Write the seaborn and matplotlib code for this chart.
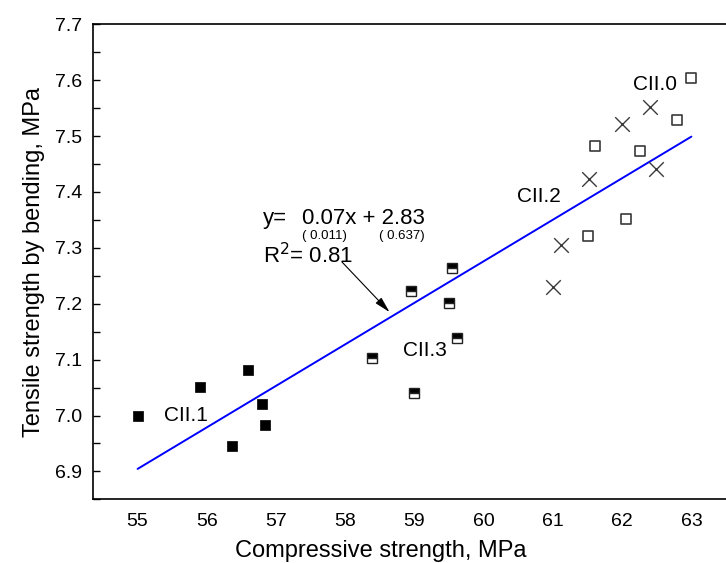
import numpy as np
import pandas as pd
import seaborn as sns
import matplotlib.pyplot as plt
from matplotlib.ticker import MultipleLocator

# CII.1 - filled squares
cii1_x = [55.00, 55.90, 56.60, 56.79, 56.84, 56.37]
cii1_y = [7.000, 7.051, 7.081, 7.021, 6.983, 6.945]
# CII.3 - half filled squares
cii3_x = [59.54, 58.95, 59.50, 59.61, 58.39, 59.00]
cii3_y = [7.264, 7.222, 7.201, 7.138, 7.103, 7.041]
# CII.0 - open squares
cii0_x = [63.00, 62.79, 61.61, 62.26, 62.06, 61.50]
cii0_y = [7.603, 7.528, 7.483, 7.474, 7.351, 7.321]
# CII.2 - crosses
cii2_x = [62.40, 62.00, 62.49, 61.52, 61.11, 61.00]
cii2_y = [7.552, 7.522, 7.441, 7.424, 7.305, 7.230]

# fitted line as drawn in the figure
fit_slope = 0.0743
fit_intercept = 2.818

sns.set_style('white')
plt.rcParams['font.family'] = ['Liberation Sans', 'DejaVu Sans']
for key in ['text.color', 'axes.labelcolor', 'xtick.color', 'ytick.color']:
    plt.rcParams[key] = 'black'

fig = plt.figure(figsize=(7.26, 5.63), dpi=100)
ax = fig.add_axes([0.1285, 0.113, 0.8715, 0.844])

all_x = np.array(cii1_x + cii3_x + cii0_x + cii2_x)
line_x = np.array([all_x.min(), all_x.max()])
line_df = pd.DataFrame({'x': line_x, 'y': fit_slope * line_x + fit_intercept})
sns.lineplot(data=line_df, x='x', y='y', ax=ax, color='#0000ff', linewidth=1.4)

sns.scatterplot(x=cii1_x, y=cii1_y, ax=ax, marker='s', s=62, color='black',
                edgecolor='black', linewidth=0.5, zorder=3)
ax.plot(cii3_x, cii3_y, linestyle='none', marker='s', markersize=7.2,
        fillstyle='top', markerfacecolor='black', markerfacecoloralt='white',
        markeredgecolor='#222222', markeredgewidth=1.0, zorder=3)
sns.scatterplot(x=cii0_x, y=cii0_y, ax=ax, marker='s', s=58, facecolor='white',
                edgecolor='#3a3a3a', linewidth=1.2, zorder=3)
sns.scatterplot(x=cii2_x, y=cii2_y, ax=ax, marker='x', s=110, color='#3a3a3a',
                linewidth=1.0, zorder=3)

# group labels
ax.text(55.70, 7.0, 'CII.1', fontsize=15, ha='center', va='center')
ax.text(59.15, 7.116, 'CII.3', fontsize=15, ha='center', va='center')
ax.text(62.48, 7.592, 'CII.0', fontsize=15, ha='center', va='center')
ax.text(60.80, 7.392, 'CII.2', fontsize=15, ha='center', va='center')

# regression equation
ax.text(56.81, 7.342, 'y=', fontsize=16, ha='left', va='baseline')
ax.text(57.37, 7.342, '0.07x + 2.83', fontsize=16, ha='left', va='baseline')
ax.text(57.70, 7.315, '( 0.011)', fontsize=9.5, ha='center', va='baseline')
ax.text(58.81, 7.315, '( 0.637)', fontsize=9.5, ha='center', va='baseline')
ax.text(56.81, 7.272, 'R$^{2}$= 0.81', fontsize=16, ha='left', va='baseline')
ax.annotate('', xy=(58.64, 7.185), xytext=(57.95, 7.275),
            arrowprops=dict(arrowstyle='-|>,head_length=0.8,head_width=0.2',
                            color='black', lw=0.8,
                            mutation_scale=12, shrinkA=0, shrinkB=0))

ax.set_xlim(54.36, 63.5)
ax.set_ylim(6.85, 7.7)
ax.xaxis.set_major_locator(MultipleLocator(1))
ax.yaxis.set_major_locator(MultipleLocator(0.1))
ax.yaxis.set_minor_locator(MultipleLocator(0.05))
ax.yaxis.set_major_formatter(plt.FormatStrFormatter('%.1f'))
ax.tick_params(axis='y', which='both', direction='in', length=5, width=1,
               labelsize=14, pad=8, left=True)
ax.tick_params(axis='x', which='both', length=0, labelsize=14, pad=10)

for side in ['left', 'bottom', 'top']:
    ax.spines[side].set_color('black')
    ax.spines[side].set_linewidth(1.2)
ax.spines['right'].set_visible(False)

ax.set_xlabel('Compressive strength, MPa', fontsize=17, labelpad=4)
ax.set_ylabel('Tensile strength by bending, MPa', fontsize=17, labelpad=7)
ax.xaxis.set_label_coords(0.455, -0.085)

fig.savefig('out.png', dpi=100)
